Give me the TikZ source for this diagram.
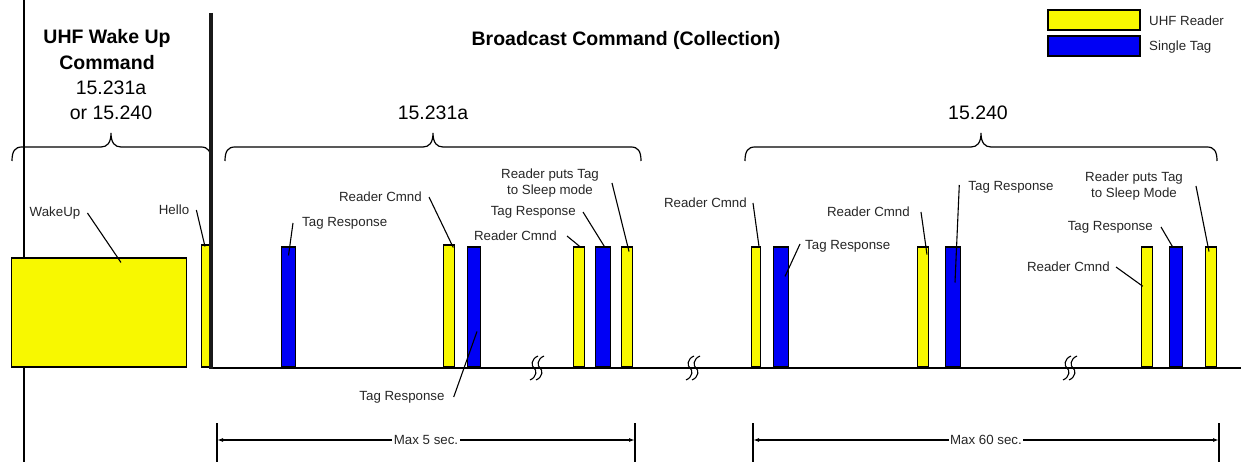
\documentclass[tikz,border=0pt]{standalone}
\usepackage{fontspec}
\setmainfont{Liberation Sans}
\usepackage{tikz}
\usetikzlibrary{arrows.meta,positioning,calc}
\definecolor{rdyel}{HTML}{F8F800}
\definecolor{tagblue}{HTML}{0000F5}

\begin{document}
\begin{tikzpicture}[x=1pt,y=-1pt,
    bar/.style={draw,line width=1.5pt,fill=#1,inner sep=0pt,anchor=south},
    lbl/.style={font=\fontsize{13.3}{15.5}\selectfont,inner sep=3pt,text=black!85},
    big/.style={font=\fontsize{19.5}{25.5}\selectfont,align=center},
    bigb/.style={font=\fontsize{19.5}{26}\selectfont\bfseries,align=center},
    lead/.style={line width=1.1pt},
    brc/.style={line width=1.2pt},
    dim/.style={line width=1.2pt,{Latex[length=6pt,width=4pt]}-{Latex[length=6pt,width=4pt]}}]
  \useasboundingbox (0,0) rectangle (1248,462);
  \def\tbrace#1#2#3{% left end, tip, right end
    \draw[brc] (#1,161) .. controls (#1,151) and (#1+3,147) .. (#1+10,147) -- (#2-10,147)
      .. controls (#2-4,147) and (#2,143) .. (#2,133) .. controls (#2,143) and (#2+4,147) .. (#2+10,147)
      -- (#3-10,147) .. controls (#3-3,147) and (#3,151) .. (#3,161);}
  \def\brk#1{% double S on the time line
    \foreach \d in {-3,3}{\draw[line width=1.1pt] (#1+\d+4,356) .. controls (#1+\d-3,359) and (#1+\d-3,366) .. (#1+\d,368)
      .. controls (#1+\d+3,370) and (#1+\d+3,377) .. (#1+\d-4,380);}}
  % headings
  \node[bigb] (hwake) at (107,50) {UHF Wake Up\\Command};
  \node[big] (hrule) at (111,100.5) {15.231a\\or 15.240};
  \node[bigb] (title) at (626,40) {Broadcast Command (Collection)};
  \node[big] (h231) at (433,113) {15.231a};
  \node[big] (h240) at (978,113) {15.240};
  \tbrace{12}{111}{211}
  \tbrace{225}{433}{641}
  \tbrace{745}{981}{1217}
  % legend
  \node[bar=rdyel,anchor=center,minimum width=92pt,minimum height=20pt] (kyel) at (1094,20) {};
  \node[bar=tagblue,anchor=center,minimum width=92pt,minimum height=20pt] (kblue) at (1094,46) {};
  \node[lbl,anchor=west] (kyeltxt) at (1146,21) {UHF Reader};
  \node[lbl,anchor=west] (kbluetxt) at (1146,47) {Single Tag};
  % time axis
  \draw[line width=1.3pt] (24,0) -- (24,462);
  \draw[line width=1.2pt] (211,368) -- (1241,368);
  \brk{537}
  \brk{693}
  \brk{1070}
  % bursts
  \node[bar=rdyel,minimum width=175pt,minimum height=109pt] (wake) at (99,368) {};
  \foreach \n/\x/\c/\w/\h in {hello/206/rdyel/9pt/122pt, t1/288.5/tagblue/14pt/120pt,
      r1/449/rdyel/11pt/122pt, t2/474/tagblue/13pt/120pt, r2/579/rdyel/11pt/120pt,
      t3/603/tagblue/15pt/120pt, r3/627/rdyel/11pt/120pt, r4/756/rdyel/9pt/120pt,
      t4/781/tagblue/15pt/120pt, r5/923/rdyel/11pt/120pt, t5/953/tagblue/15pt/120pt,
      r6/1147/rdyel/11pt/120pt, t6/1176/tagblue/13pt/120pt, r7/1211/rdyel/11pt/120pt}
    {\node[bar=\c,minimum width=\w,minimum height=\h] (\n) at (\x,368) {};}
  \draw[line width=3.2pt,black!90] (211,13) -- (211,369);
  % labels
  \node[lbl] (lwake) at (55,213) {WakeUp};
  \node[lbl] (lhello) at (174,210) {Hello};
  \node[lbl,anchor=west] (lt1) at (299,223) {Tag Response};
  \node[lbl,anchor=east] (lr1) at (425,197) {Reader Cmnd};
  \node[lbl] (lt2) at (402,397) {Tag Response};
  \node[lbl,align=center] (lsl1) at (550,183) {Reader puts Tag\\to Sleep mode};
  \node[lbl,anchor=east] (lt3) at (579,212) {Tag Response};
  \node[lbl,anchor=east] (lr2) at (560,236) {Reader Cmnd};
  \node[lbl,anchor=east] (lr4) at (750,203) {Reader Cmnd};
  \node[lbl,anchor=west] (lt4) at (802,246) {Tag Response};
  \node[lbl,anchor=east] (lr5) at (913,212) {Reader Cmnd};
  \node[lbl] (lt5) at (1011,187) {Tag Response};
  \node[lbl,align=center] (lsl2) at (1134,186) {Reader puts Tag\\to Sleep Mode};
  \node[lbl,anchor=east] (lt6) at (1156,227) {Tag Response};
  \node[lbl,anchor=east] (lr6) at (1113,267) {Reader Cmnd};
  % leader lines
  \draw[lead] ($(lwake.east)+(4,0)$) -- ($(wake.north)+(22,5)$);
  \draw[lead] ($(lhello.east)+(4,0)$) -- ($(hello.north)+(-1,2)$);
  \draw[lead] ($(lt1.west)+(-6,0)$) -- ($(t1.north)+(0,9)$);
  \draw[lead] ($(lr1.east)+(4,0)$) -- ($(r1.north east)+(-2,3)$);
  \draw[lead] ($(lt2.east)+(6,0)$) -- ($(t2.north)+(3,85)$);
  \draw[lead] ($(lsl1.east)+(10,0)$) -- ($(r3.north)+(2,5)$);
  \draw[lead] ($(lt3.east)+(4,0)$) -- ($(t3.north)+(2,1)$);
  \draw[lead] ($(lr2.east)+(7,0)$) -- ($(r2.north)+(2,1)$);
  \draw[lead] ($(lr4.east)+(3,0)$) -- ($(r4.north)+(3,0)$);
  \draw[lead] ($(lt4.west)+(-2,-2)$) -- ($(t4.north)+(4,30)$);
  \draw[lead] ($(lr5.east)+(8,0)$) -- ($(r5.north)+(4,8)$);
  \draw[lead] ($(lt5.west)+(-6,-2)$) -- ($(t5.north)+(2,36)$);
  \draw[lead] ($(lsl2.east)+(10,0)$) -- ($(r7.north)+(-2,5)$);
  \draw[lead] ($(lt6.east)+(5,0)$) -- ($(t6.north)+(-3,1)$);
  \draw[lead] ($(lr6.east)+(3,0)$) -- ($(r6.west)+(2,-21)$);
  % time limits
  \coordinate (d1a) at (217,440);
  \coordinate (d1b) at (635,440);
  \coordinate (d2a) at (753,440);
  \coordinate (d2b) at (1219,440);
  \foreach \p in {d1a,d1b,d2a,d2b}{\draw[line width=1.3pt] ($(\p)+(0,-17)$) -- ($(\p)+(0,22)$);}
  \draw[dim] (d1a) -- node[lbl,fill=white,inner sep=1.5pt] (max5) {Max 5 sec.} (d1b);
  \draw[dim] (d2a) -- node[lbl,fill=white,inner sep=1.5pt] (max60) {Max 60 sec.} (d2b);
\end{tikzpicture}
\end{document}
